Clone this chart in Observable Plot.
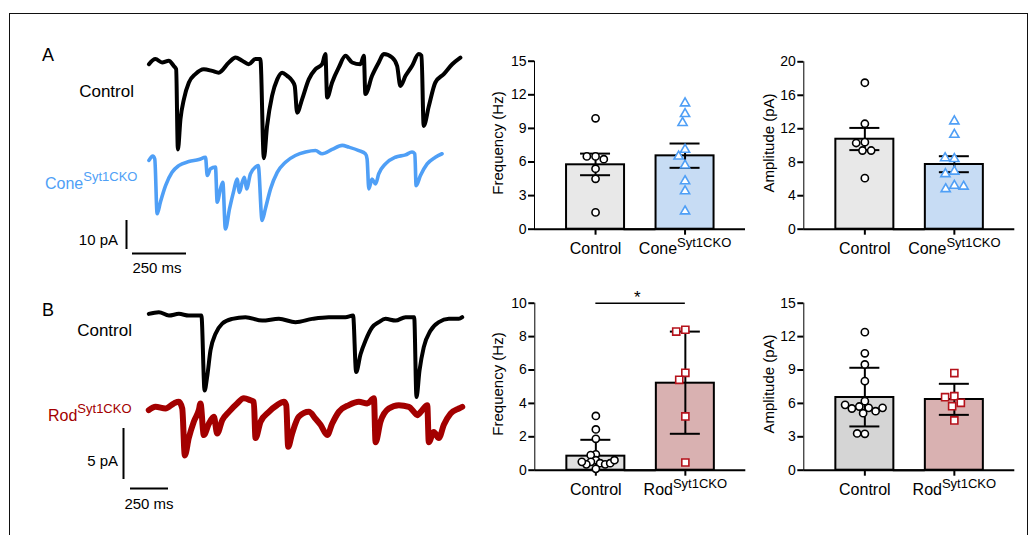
<!DOCTYPE html>
<html><head><meta charset="utf-8">
<script src="https://cdn.jsdelivr.net/npm/d3@7"></script>
<script src="https://cdn.jsdelivr.net/npm/@observablehq/plot@0.6"></script>
<style>
html,body{margin:0;padding:0;background:#fff;}
#fig{position:relative;width:1036px;height:535px;overflow:hidden;font-family:"Liberation Sans",Arial,Helvetica,sans-serif;color:#000;background:#fff;}
#fig svg{position:absolute;}
#fig svg.bp g[aria-label^="y-axis"] *{stroke-width:2px;}
#fig svg.bp g[aria-label^="y-axis"] text{font-size:14px;}
.lbl{position:absolute;line-height:1;white-space:nowrap;}
.sup{position:relative;}
#frame{position:absolute;left:9px;top:13px;width:1019px;height:600px;border:1.5px solid #111;box-sizing:border-box;}
</style></head>
<body><div id="fig"><div id="frame"></div></div>
<script>
// ---------------- DATA ----------------
// Example traces: [time (ms), current (pA)]
const traceA_control = [[2,-0.6],[32,1.2],[63,0],[94,0.6],[117,-1.2],[128,-2.3],[136,-30],[148,-19.5],[164,-12.6],[187,-6.9],[217,-4.0],[256,-2.3],[295,-2.9],[325,-3.5],[372,0],[403,1.7],[434,0.6],[464,-0.6],[495,1.2],[518,1.2],[534,-33],[549,-21.9],[572,-11.5],[596,-5.8],[619,-3.5],[642,-4.6],[665,-6.3],[677,-8.1],[688,-17.3],[711,-12.7],[742,-5.8],[773,-2.3],[804,-0.6],[819,2.9],[827,-12.1],[850,-6.9],[881,-1.7],[912,2.3],[943,0],[981,-0.6],[997,2.3],[1004,-10.9],[1035,-4.6],[1066,0],[1089,2.9],[1128,1.7],[1151,-1.2],[1166,-8.1],[1190,-4.6],[1220,-1.2],[1251,2.9],[1264,2.3],[1274,-21.9],[1298,-15],[1328,-6.9],[1367,-4.0],[1406,-0.6],[1444,1.7]];
const traceA_cone = [[2,-1.7],[20,-0.2],[29,-1.2],[40,-20.1],[55,-16.1],[79,-10.4],[109,-5.8],[140,-3.5],[187,-2.1],[233,-1.4],[264,-0.6],[272,-6.9],[287,-4.6],[310,-4.0],[318,-16.1],[333,-11.5],[344,-9.2],[356,-25.3],[375,-18.4],[395,-12.1],[410,-8.1],[421,-12.7],[434,-9.2],[444,-7.5],[454,-11.5],[472,-6.3],[495,-4.0],[508,-3.5],[526,-22.4],[541,-18.4],[565,-11.5],[596,-5.8],[634,-2.3],[680,0],[727,1.2],[773,1.7],[804,0.6],[850,2.1],[897,3.5],[927,2.9],[974,1.7],[1004,0.6],[1012,-1.2],[1020,-11.5],[1035,-8.1],[1051,-9.8],[1066,-6.3],[1097,-2.9],[1143,-0.6],[1190,0.2],[1220,1.2],[1233,0.6],[1239,-10.4],[1259,-6.9],[1290,-2.9],[1328,-0.6],[1359,0.6]];
const traceB_control = [[2,0.16],[68,0.33],[134,0],[200,0.16],[265,0],[348,0],[369,-7.35],[386,-6.0],[408,-3.4],[441,-1.8],[485,-0.8],[551,-0.33],[638,-0.16],[748,-0.5],[858,-0.33],[967,-0.65],[1077,-0.33],[1186,-0.16],[1296,-0.16],[1346,0],[1366,-5.55],[1395,-3.8],[1428,-2.45],[1472,-1.15],[1515,-0.65],[1559,-0.33],[1625,-0.5],[1691,-0.16],[1748,-0.16],[1763,-8.0],[1783,-5.4],[1811,-3.1],[1855,-1.5],[1910,-0.65],[1976,-0.33],[2042,-0.33],[2064,-0.16]];
const traceB_rod = [[2,-0.16],[46,0.16],[112,0],[167,0.5],[200,0.65],[222,0],[239,-4.6],[265,-2.9],[298,-1.3],[331,-0.16],[342,0.5],[364,-2.6],[397,-1.5],[430,-0.8],[452,-2.45],[485,-1.15],[529,-0.33],[583,0.5],[627,1.0],[671,0.8],[693,0.65],[704,-2.9],[737,-1.3],[792,-0.33],[846,0.33],[891,0.65],[906,0.33],[919,-3.75],[945,-2.45],[989,-0.8],[1055,-0.33],[1099,-1.0],[1132,-1.6],[1176,-2.6],[1208,-1.5],[1252,-0.33],[1318,0.33],[1384,0.65],[1439,0.5],[1483,1.0],[1494,-3.3],[1526,-1.3],[1581,0],[1647,0.33],[1713,0.16],[1746,-0.33],[1768,-0.65],[1801,-0.16],[1834,0.33],[1844,-3.3],[1877,-2.3],[1910,-2.9],[1943,-1.6],[1987,-0.5],[2042,0],[2064,0.16]];
const scaleA = {pA: 10, ms: 250};
const scaleB = {pA: 5, ms: 250};

// Bar-chart categories
const groupsA = ["Control", "Cone"];
const groupsB = ["Control", "Rod"];
const supText = "Syt1CKO";

// Panel A – frequency (Hz)
const freqA_control = [9.9, 6.5, 6.5, 6.25, 5.4, 4.5, 1.5];
const freqA_cone = [11.25, 10.3, 9.5, 7.1, 6.5, 5.7, 4.3, 3.4, 1.6];
const freqA_mean = [5.75, 6.55], freqA_hi = [6.75, 7.65], freqA_lo = [4.82, 5.48];
const freqA_ticks = [0, 3, 6, 9, 12, 15];
// Panel A – amplitude (pA)
const ampA_control = [17.5, 12.6, 10.4, 10.3, 9.4, 9.4, 6.1];
const ampA_cone = [12.9, 11.3, 8.4, 8.5, 6.9, 6.6, 5.2, 4.8, 5.1];
const ampA_mean = [10.75, 7.73], ampA_hi = [12.1, 8.72], ampA_lo = [9.45, 6.81];
const ampA_ticks = [0, 4, 8, 12, 16, 20];
// Panel B – frequency (Hz)
const freqB_control = [3.25, 2.44, 1.88, 0.95, 0.9, 0.6, 0.5, 0.42, 0.35, 0.08, 0.35, 0.42, 0.5, 0.6];
const freqB_rod = [8.41, 8.3, 5.83, 5.41, 3.22, 0.46];
const freqB_mean = [0.84, 5.21], freqB_hi = [1.82, 8.3], freqB_lo = [0, 2.18];
const freqB_ticks = [0, 2, 4, 6, 8, 10];
const freqB_sig = {y: 10, text: "*"};
// Panel B – amplitude (pA)
const ampB_control = [12.4, 10.5, 9.5, 8.0, 6.2, 5.72, 5.6, 5.3, 5.12, 5.54, 5.6, 5.87, 3.27, 3.3];
const ampB_rod = [8.72, 6.65, 6.56, 6.05, 5.75, 4.47];
const ampB_mean = [6.53, 6.35], ampB_hi = [9.2, 7.76], ampB_lo = [3.93, 4.97];
const ampB_ticks = [0, 3, 6, 9, 12, 15];

// ---------------- STYLE ----------------
const FONT = '"Liberation Sans", Arial, Helvetica, sans-serif';
const BLUE = "#4f9ff6", BLUE_BAR = "#c7dcf4", RED = "#a30000", RED_MARK = "#b5121b", RED_BAR = "#d9b1b1";
const fig = document.getElementById("fig");
const SVGNS = "http://www.w3.org/2000/svg";

function put(el, left, top) {
  el.style.left = left + "px"; el.style.top = top + "px";
  fig.appendChild(el); return el;
}
function label(html, x, y, size, {anchor = "start", color = "#000", rotate = 0} = {}) {
  const el = document.createElement("div");
  el.className = "lbl";
  el.innerHTML = html;
  el.style.fontSize = size + "px";
  el.style.color = color;
  const tx = anchor === "end" ? "-100%" : anchor === "middle" ? "-50%" : "0";
  el.style.transform = `translate(${tx},-50%)` + (rotate ? ` rotate(${rotate}deg)` : "");
  return put(el, x, y);
}
function supHTML(base, sup, size, raise) {
  return `${base}<span class="sup" style="font-size:${size}px;top:${-raise}px">${sup}</span>`;
}

// ---------------- TRACES ----------------
function tracePanel(o) {
  const svg = Plot.plot({
    width: 480, height: o.height, margin: 0,
    style: {background: "transparent", overflow: "visible"},
    x: {axis: null, domain: [0, 1000], range: [o.x0, o.x0 + 1000 * o.pxPerMs]},
    y: {axis: null, domain: [0, -10], range: [o.y0, o.y0 + 10 * o.pxPerPa]},
    marks: [
      Plot.line(o.top, {x: d => d[0], y: d => d[1], stroke: "#000", strokeWidth: o.w1, strokeLinejoin: "round", curve: "monotone-x"}),
      Plot.line(o.bottom, {x: d => d[0], y: d => d[1] + o.shift, stroke: o.color, strokeWidth: o.w2, strokeLinejoin: "round", curve: "monotone-x"}),
      Plot.ruleX([o.sbV.t], {y1: o.sbV.v, y2: o.sbV.v - o.scale.pA, stroke: "#000", strokeWidth: 2}),
      Plot.ruleY([o.sbH.v], {x1: o.sbH.t, x2: o.sbH.t + o.scale.ms, stroke: "#000", strokeWidth: 2})
    ]
  });
  svg.style.left = "0px"; svg.style.top = o.svgTop + "px";
  fig.appendChild(svg);
}
// panel A: 54 px per 250 ms, 29 px per 10 pA
{
  const pxPerMs = 54 / 250, pxPerPa = 29 / 10, x0 = 148, y0 = 62;
  tracePanel({height: 280, svgTop: 0, x0, y0, pxPerMs, pxPerPa,
    top: traceA_control, bottom: traceA_cone, shift: -(155 - 62) / pxPerPa, color: BLUE, w1: 4, w2: 3.6,
    scale: scaleA,
    sbV: {t: (126 - x0) / pxPerMs, v: -(220 - y0) / pxPerPa},
    sbH: {t: (132 - x0) / pxPerMs, v: -(253 - y0) / pxPerPa}});
}
// panel B: 38 px per 250 ms, 51 px per 5 pA
{
  const pxPerMs = 38 / 250, pxPerPa = 51 / 5, x0 = 148, y0 = 315;
  tracePanel({height: 535, svgTop: 0, x0, y0, pxPerMs, pxPerPa,
    top: traceB_control, bottom: traceB_rod, shift: -(408 - 315) / pxPerPa, color: RED, w1: 4, w2: 6,
    scale: scaleB,
    sbV: {t: (123 - x0) / pxPerMs, v: -(428 - y0) / pxPerPa},
    sbH: {t: (130 - x0) / pxPerMs, v: -(488 - y0) / pxPerPa}});
}

// ---------------- BAR PANELS ----------------
const F = 89.5, D = 16.3, BAR_W = 58, CAP_W = 30;
function barPanel(o) {
  const mL = o.axisX - o.left, mT = o.yTop - o.top, mB = o.top + o.height - o.y0;
  const mR = o.width - mL - 2 * F;
  const frameH = o.y0 - o.yTop;
  const summary = o.groups.map((g, i) => ({g, mean: o.mean[i], hi: o.hi[i], lo: o.lo[i], lab: o.groups[i]}));
  const barIn = (F - BAR_W) / 2, capIn = (F - CAP_W) / 2;
  const marks = [
    Plot.barY(summary, {fx: "g", y: "mean", fill: "g", stroke: "#000", strokeWidth: 2, insetLeft: barIn + D, insetRight: barIn - D}),
    Plot.ruleY([0], {stroke: "#000", strokeWidth: 2, insetRight: -32}),
    Plot.ruleX(summary, {fx: "g", x: null, y1: "lo", y2: "hi", dx: D, stroke: "#000", strokeWidth: 2}),
    Plot.tickY(summary, {fx: "g", y: "hi", insetLeft: capIn + D, insetRight: capIn - D, stroke: "#000", strokeWidth: 2}),
    Plot.tickY(summary.filter(d => d.lo > 0), {fx: "g", y: "lo", insetLeft: capIn + D, insetRight: capIn - D, stroke: "#000", strokeWidth: 2}),
    Plot.ruleX(summary, {fx: "g", x: null, dx: D, insetTop: frameH, insetBottom: -6, stroke: "#000", strokeWidth: 2}),
    Plot.text(summary, {fx: "g", text: "lab", frameAnchor: "bottom", lineAnchor: "top", dy: 13.5, dx: D, fontSize: 16, fill: "#000"}),
    ...o.groups.map((g, i) => Plot.dot(o.points[i].map(v => ({g, v})),
      Plot.dodgeX({anchor: "middle", padding: o.pad[i]},
        {fx: "g", y: "v", r: o.r[i], symbol: o.symbol[i], stroke: o.stroke[i], fill: "#fff", strokeWidth: 1.6, dx: D})))
  ];
  if (o.sig) {
    marks.push(
      Plot.ruleY([{g: o.groups[0], y: o.sig.y}], {fx: "g", y: "y", insetLeft: F / 2 + D, insetRight: -(F / 2 + D), stroke: "#000", strokeWidth: 1.5}),
      Plot.text([{g: o.groups[0], y: o.sig.y + 0.35}], {fx: "g", y: "y", text: () => o.sig.text, frameAnchor: "right", dx: D, fontSize: 17, fill: "#000"})
    );
  }
  const svg = Plot.plot({
    width: o.width, height: o.height, marginLeft: mL, marginRight: mR, marginTop: mT, marginBottom: mB,
    style: {background: "transparent", overflow: "visible", fontFamily: FONT, fontSize: "14px", color: "#000"},
    fx: {domain: o.groups, padding: 0, axis: null, round: false, label: null},
    y: {domain: o.domain, ticks: o.ticks, tickSize: 6, tickPadding: 2, line: true, label: null},
    color: {domain: o.groups, range: o.fills},
    marks
  });
  svg.classList.add("bp");
  svg.querySelectorAll("text").forEach(t => {
    const s = t.textContent.trim();
    if ((s === "Cone" || s === "Rod") && !t.querySelector("tspan.supx")) {
      const ts = document.createElementNS(SVGNS, "tspan");
      ts.setAttribute("class", "supx");
      ts.setAttribute("dy", "-7");
      ts.setAttribute("font-size", "13");
      ts.textContent = supText;
      t.appendChild(ts);
    }
  });
  svg.style.left = o.left + "px"; svg.style.top = o.top + "px";
  fig.appendChild(svg);
  label(o.title, o.titleX, (o.yTop + o.y0) / 2 - 2, 15, {anchor: "middle", rotate: -90});
}

barPanel({left: 470, top: 40, width: 290, height: 240, axisX: 534, yTop: 60.7, y0: 228.7,
  domain: [0, 15], ticks: freqA_ticks, groups: groupsA, mean: freqA_mean, hi: freqA_hi, lo: freqA_lo,
  points: [freqA_control, freqA_cone], fills: ["#e8e8e8", BLUE_BAR], stroke: ["#000", BLUE],
  symbol: ["circle", "triangle"], r: [3.6, 3.4], pad: [1.5, 2.5], title: "Frequency (Hz)", titleX: 497});
barPanel({left: 740, top: 40, width: 290, height: 240, axisX: 803.3, yTop: 61.3, y0: 228.7,
  domain: [0, 20], ticks: ampA_ticks, groups: groupsA, mean: ampA_mean, hi: ampA_hi, lo: ampA_lo,
  points: [ampA_control, ampA_cone], fills: ["#e8e8e8", BLUE_BAR], stroke: ["#000", BLUE],
  symbol: ["circle", "triangle"], r: [3.6, 3.4], pad: [1.5, 2.5], title: "Amplitude (pA)", titleX: 768});
barPanel({left: 470, top: 270, width: 290, height: 250, axisX: 534.3, yTop: 302.7, y0: 469.7,
  domain: [0, 10], ticks: freqB_ticks, groups: groupsB, mean: freqB_mean, hi: freqB_hi, lo: freqB_lo,
  points: [freqB_control, freqB_rod], fills: ["#e0e0e0", RED_BAR], stroke: ["#000", RED_MARK],
  symbol: ["circle", "square"], r: [3.6, 4], pad: [-2, 1.3], sig: freqB_sig, title: "Frequency (Hz)", titleX: 497});
barPanel({left: 740, top: 270, width: 290, height: 250, axisX: 803.3, yTop: 302.7, y0: 469.7,
  domain: [0, 15], ticks: ampB_ticks, groups: groupsB, mean: ampB_mean, hi: ampB_hi, lo: ampB_lo,
  points: [ampB_control, ampB_rod], fills: ["#d5d5d5", RED_BAR], stroke: ["#000", RED_MARK],
  symbol: ["circle", "square"], r: [3.6, 4], pad: [0.5, 1.3], title: "Amplitude (pA)", titleX: 768});

// ---------------- TEXT LABELS (trace panels) ----------------
label("A", 42, 55, 18);
label("Control", 134, 90.5, 17, {anchor: "end"});
label(supHTML("Cone", supText, 13, 8), 45, 184, 16, {color: BLUE});
label("10 pA", 118, 238.5, 15, {anchor: "end"});
label("250 ms", 157, 266.5, 15, {anchor: "middle"});
label("B", 42, 309.5, 18);
label("Control", 132, 329.5, 17, {anchor: "end"});
label(supHTML("Rod", supText, 13, 8), 48, 416, 16, {color: RED});
label("5 pA", 118, 459.5, 15, {anchor: "end"});
label("250 ms", 149, 503, 15, {anchor: "middle"});
</script></body></html>
